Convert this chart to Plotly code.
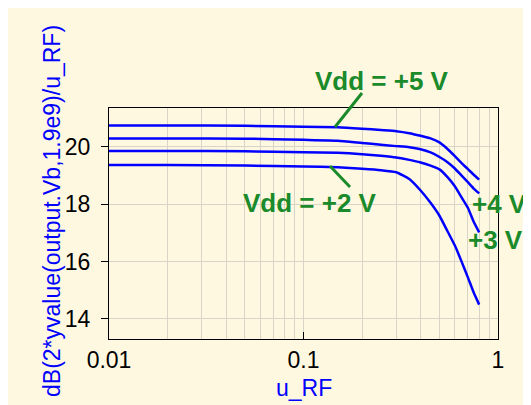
import plotly.graph_objects as go

# ---- data ----
u_rf = [0.01, 0.02, 0.05, 0.1, 0.15, 0.2, 0.25, 0.3, 0.35, 0.4, 0.45, 0.5,
        0.55, 0.6, 0.65, 0.7, 0.75, 0.8]
gain_5v = [20.75, 20.75, 20.74, 20.71, 20.69, 20.64, 20.59, 20.55, 20.48, 20.39,
           20.30, 20.16, 19.93, 19.68, 19.44, 19.23, 19.03, 18.86]
gain_4v = [20.30, 20.30, 20.29, 20.25, 20.22, 20.14, 20.08, 20.03, 19.99, 19.92,
           19.81, 19.65, 19.47, 19.25, 19.00, 18.77, 18.55, 18.38]
gain_3v = [19.86, 19.86, 19.85, 19.82, 19.80, 19.75, 19.69, 19.63, 19.55, 19.46,
           19.35, 19.22, 18.95, 18.63, 18.24, 17.88, 17.39, 17.02]
gain_2v = [19.37, 19.37, 19.35, 19.32, 19.29, 19.24, 19.19, 19.12, 18.88, 18.48,
           18.05, 17.60, 17.06, 16.56, 16.00, 15.45, 14.92, 14.50]

x_major = [0.01, 0.1, 1]
x_major_text = ["0.01", "0.1", "1"]
x_minor = [0.02, 0.03, 0.04, 0.05, 0.06, 0.07, 0.08, 0.09,
           0.2, 0.3, 0.4, 0.5, 0.6, 0.7, 0.8, 0.9]
y_ticks = [14, 16, 18, 20]
y_range = [13.3, 21.36]

labels = ["Vdd = +5 V", "Vdd = +2 V", "+4 V", "+3 V"]
y_title = "dB(2*yvalue(output.Vb,1.9e9)/u_RF)"
x_title = "u_RF"

BG = "#fff8e1"
GREEN = "#1a8a2a"
BLUE = "#0000ff"
GRID = "#d8d4c8"
FONT = "Arial, Liberation Sans, sans-serif"

fig = go.Figure()
for ys in [gain_5v, gain_4v, gain_3v, gain_2v]:
    fig.add_trace(go.Scatter(x=u_rf, y=ys, mode="lines",
                             line=dict(color=BLUE, width=2.5, shape="spline", smoothing=0.4),
                             showlegend=False, hoverinfo="skip"))

# page is offset by the 8px body margin, so the figure is 8px smaller
OFF = 8
W, H = 531 - OFF, 405 - OFF
PL, PT, PR, PB = 109, 108, 498, 339          # plot box in page pixels
L, T, R, B = PL - OFF, PT - OFF, 531 - PR, 405 - PB
pw, ph = PR - PL, PB - PT

def px(x):
    return (x - PL) / pw

def py(y):
    return (PB - y) / ph

fig.update_layout(
    width=W, height=H,
    margin=dict(l=L, r=R, t=T, b=B),
    paper_bgcolor=BG,
    plot_bgcolor=BG,
    font=dict(family=FONT, size=23, color="black"),
    xaxis=dict(type="log", range=[-2, 0], tickvals=x_major, ticktext=x_major_text,
               ticks="inside", ticklen=7, tickcolor="black",
               showline=True, mirror=True, linecolor="black", linewidth=1,
               showgrid=True, gridcolor=GRID, gridwidth=1.3, zeroline=False,
               minor=dict(tickmode="array", tickvals=x_minor, showgrid=True,
                          gridcolor=GRID, gridwidth=1.3, ticks=""),
               tickfont=dict(size=23, color="black"), ticklabelstandoff=0),
    yaxis=dict(range=y_range, tickvals=y_ticks, ticks="outside", ticklen=7,
               tickcolor="black", showline=True, mirror=True, linecolor="black",
               linewidth=1, showgrid=True, gridcolor=GRID, gridwidth=1.3,
               zeroline=False, tickfont=dict(size=23, color="black"),
               ticklabelstandoff=6),
    yaxis2=dict(range=y_range, overlaying="y", side="left", anchor="x",
                tickvals=y_ticks, ticks="inside", ticklen=8, tickcolor="black",
                showticklabels=False, showgrid=False, zeroline=False, showline=False),
)

# leader lines
fig.add_shape(type="line", xref="paper", yref="paper",
              x0=px(362), y0=py(93), x1=px(335), y1=py(127),
              line=dict(color=GREEN, width=3))
fig.add_shape(type="line", xref="paper", yref="paper",
              x0=px(330), y0=py(166), x1=px(350), y1=py(187),
              line=dict(color=GREEN, width=3))

label_pos = [(313, 81), (241, 202.5), (470, 204), (466, 240)]
for txt, (lx, ly) in zip(labels, label_pos):
    fig.add_annotation(text="<b>%s</b>" % txt, xref="paper", yref="paper",
                       x=px(lx), y=py(ly), xanchor="left", yanchor="middle",
                       showarrow=False, font=dict(family=FONT, size=26, color=GREEN))

fig.add_annotation(text=y_title, xref="paper", yref="paper", x=px(52), y=py(211),
                   xanchor="center", yanchor="middle", textangle=-90, showarrow=False,
                   font=dict(family=FONT, size=23, color=BLUE))
fig.add_annotation(text=x_title, xref="paper", yref="paper", x=px(304), y=py(388),
                   xanchor="center", yanchor="middle", showarrow=False,
                   font=dict(family=FONT, size=23, color=BLUE))

fig.write_html("out.html")
